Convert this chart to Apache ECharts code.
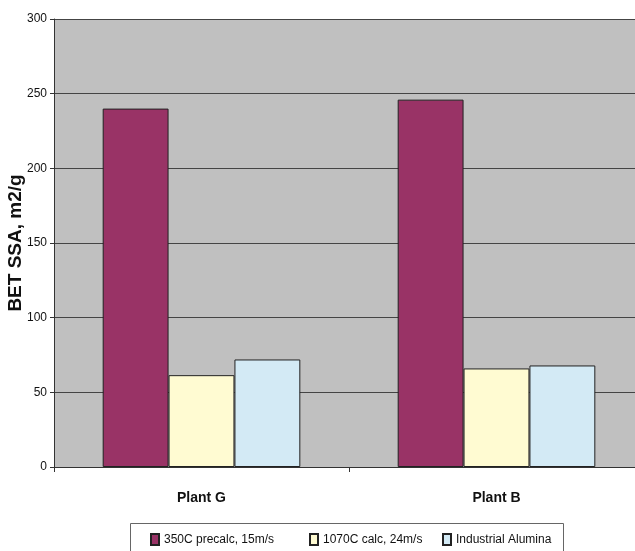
<!DOCTYPE html>
<html>
<head>
<meta charset="utf-8">
<script src="https://cdn.jsdelivr.net/npm/echarts@6/dist/echarts.min.js"></script>
<style>
  html, body { margin: 0; padding: 0; background: #ffffff; }
  #chart { width: 635px; height: 551px; }
</style>
</head>
<body>
<div id="chart"></div>
<script>
// BET specific surface area by plant and treatment
const categories = ['Plant G', 'Plant B'];
const seriesNames = ['350C precalc, 15m/s', '1070C calc, 24m/s', 'Industrial Alumina'];
const precalc350 = [240, 246];
const calc1070 = [61.5, 66];
const industrialAlumina = [72, 68];
const yTicks = { min: 0, max: 300, interval: 50 };

const font = "'Liberation Sans', Arial, sans-serif";
const colors = ['#993366', '#FFFBD2', '#D3EAF5'];
const values = [precalc350, calc1070, industrialAlumina];
const legendLefts = [150, 309, 442];

const chart = echarts.init(document.getElementById('chart'), null, { renderer: 'canvas' });

chart.setOption({
  animation: false,
  backgroundColor: '#ffffff',
  grid: {
    left: 54, top: 19, width: 590, height: 448,
    outerBoundsMode: 'none',
    containLabel: false,
    show: true, backgroundColor: '#C0C0C0', borderWidth: 0
  },
  // frame around the legend entries
  graphic: [{
    type: 'rect',
    shape: { x: 130.5, y: 523.5, width: 433, height: 40 },
    style: { fill: '#ffffff', stroke: '#666', lineWidth: 1 },
    z: 0
  }],
  legend: seriesNames.map((name, i) => ({
    left: legendLefts[i], top: 533,
    data: [name],
    icon: 'rect',
    itemWidth: 8, itemHeight: 11,
    padding: 0,
    z: 5,
    textStyle: { fontFamily: font, fontSize: 12, color: '#111' }
  })),
  xAxis: {
    type: 'category',
    data: categories,
    axisLine: { lineStyle: { color: '#333', width: 1 } },
    axisTick: { show: true, length: 5, lineStyle: { color: '#333' } },
    axisLabel: { fontFamily: font, fontSize: 14, fontWeight: 'bold', color: '#111', margin: 24 }
  },
  yAxis: {
    type: 'value',
    min: yTicks.min, max: yTicks.max, interval: yTicks.interval,
    name: 'BET SSA, m2/g',
    nameLocation: 'middle', nameRotate: 90, nameGap: 29,
    nameMoveOverlap: false,
    nameTextStyle: { fontFamily: font, fontSize: 19, fontWeight: 'bold', color: '#111' },
    axisLine: { show: true, lineStyle: { color: '#333', width: 1 } },
    axisTick: { show: true, length: 4, lineStyle: { color: '#333' } },
    axisLabel: { fontFamily: font, fontSize: 12, color: '#111', margin: 7 },
    splitLine: { show: true, lineStyle: { color: '#444', width: 1 } }
  },
  series: seriesNames.map((name, i) => ({
    name: name,
    type: 'bar',
    data: values[i],
    barGap: '0%',
    barCategoryGap: '33%',
    itemStyle: { color: colors[i], borderColor: '#222', borderWidth: 1 }
  }))
});
</script>
</body>
</html>
